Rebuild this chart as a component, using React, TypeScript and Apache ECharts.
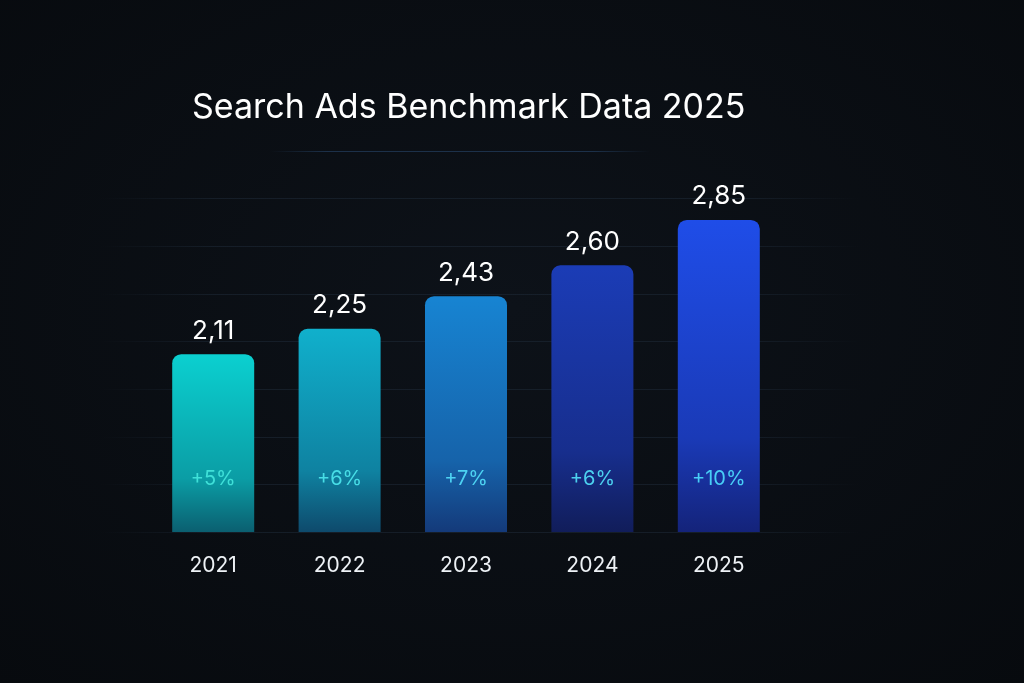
import React, { useEffect, useRef } from "react";
import * as echarts from "echarts";

const title = "Search Ads Benchmark Data 2025";
const years = ["2021", "2022", "2023", "2024", "2025"];
const values = [2.11, 2.25, 2.43, 2.6, 2.85];
const growth = ["+5%", "+6%", "+7%", "+6%", "+10%"];
const topColors = ["#0bd0d0", "#10b0cc", "#1784d2", "#1b3cb6", "#1f4de8"];
const bottomColors = ["#0b5f70", "#0e4a6c", "#143a7a", "#111d5a", "#14237a"];
const growthColors = ["#3fe0d8", "#48dde6", "#4dd2f2", "#4cd0ee", "#48cef6"];
const gridSteps = [0, 1, 2, 3, 4, 5, 6, 7, 8];

const FONT = "Inter, 'Noto Sans', Roboto, sans-serif";

export default function App() {
  const ref = useRef<HTMLDivElement>(null);
  useEffect(() => {
    if (!ref.current) return;
    document.body.style.margin = "0";
    const chart = echarts.init(ref.current, null, { renderer: "svg" });
    const fadeLine = (alpha: number, x0: number, x1: number, rgb: string) =>
      new echarts.graphic.LinearGradient(
        x0, 0, x1, 0,
        [
          { offset: 0, color: `rgba(${rgb},0)` },
          { offset: 0.15, color: `rgba(${rgb},${alpha})` },
          { offset: 0.85, color: `rgba(${rgb},${alpha})` },
          { offset: 1, color: `rgba(${rgb},0)` },
        ],
        true
      );
    const lineColors = gridSteps.map((s) =>
      s === gridSteps.length - 1
        ? fadeLine(0.35, 270, 650, "60,110,170")
        : fadeLine(0.55, 100, 860, "30,42,56")
    );
    chart.setOption({
      animation: false,
      backgroundColor: new echarts.graphic.RadialGradient(0.5, 0.45, 0.75, [
        { offset: 0, color: "#0d1219" },
        { offset: 1, color: "#070a0e" },
      ]),
      title: {
        text: title,
        left: 187,
        top: 83,
        textStyle: { color: "#ffffff", fontSize: 34, fontWeight: 400, fontFamily: FONT },
      },
      grid: [
        { left: 150, right: 242, top: 151, bottom: 151, containLabel: false },
        { left: 100, right: 164, top: 151, bottom: 151, containLabel: false },
      ],
      xAxis: [
        {
          type: "category",
          gridIndex: 0,
          data: years,
          axisLine: { show: false },
          axisTick: { show: false },
          axisLabel: { color: "#eef2f6", fontSize: 21, margin: 22, fontFamily: FONT },
        },
        { type: "value", gridIndex: 1, show: false, min: 0, max: 1 },
      ],
      yAxis: [
        { type: "value", gridIndex: 0, min: 1.13, max: 3.23, show: false, splitLine: { show: false } },
        {
          type: "value",
          gridIndex: 1,
          min: 0,
          max: 8,
          interval: 1,
          axisLine: { show: false },
          axisTick: { show: false },
          axisLabel: { show: false },
          splitLine: { show: true, lineStyle: { color: lineColors, width: 1 } },
        },
      ],
      series: [
        {
          type: "bar",
          xAxisIndex: 0,
          yAxisIndex: 0,
          barWidth: 82,
          data: values.map((v, i) => ({
            value: v,
            itemStyle: {
              borderRadius: [9, 9, 0, 0],
              color: new echarts.graphic.LinearGradient(0, 0, 0, 1, [
                { offset: 0, color: topColors[i] },
                { offset: 0.7, color: echarts.color.lerp(0.45, [topColors[i], bottomColors[i]]) },
                { offset: 1, color: bottomColors[i] },
              ]),
            },
          })),
          label: {
            show: true,
            position: "top",
            distance: 12,
            color: "#ffffff",
            fontSize: 26,
            fontFamily: FONT,
            formatter: (p: any) => values[p.dataIndex].toFixed(2).replace(".", ","),
          },
        },
        {
          type: "bar",
          xAxisIndex: 0,
          yAxisIndex: 0,
          barWidth: 82,
          barGap: "-100%",
          silent: true,
          itemStyle: { color: "rgba(0,0,0,0)" },
          data: values.map((v, i) => ({
            value: v,
            label: { color: growthColors[i] },
          })),
          label: {
            show: true,
            position: "insideBottom",
            distance: 44,
            fontSize: 20,
            fontFamily: FONT,
            textBorderWidth: 0,
            formatter: (p: any) => growth[p.dataIndex],
          },
        },
      ],
    });
    return () => chart.dispose();
  }, []);
  return <div ref={ref} style={{ width: 1024, height: 683, position: "fixed", left: 0, top: 0 }} />;
}
